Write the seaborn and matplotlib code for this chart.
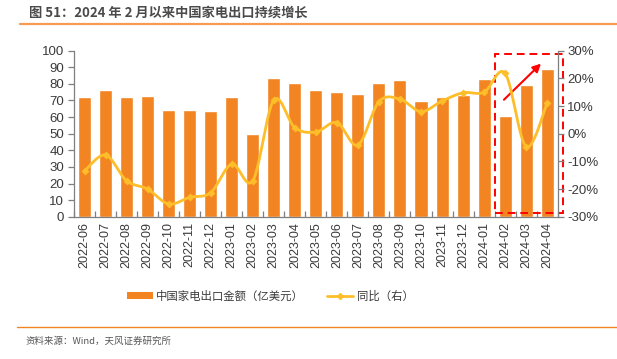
import numpy as np
import pandas as pd
import matplotlib
matplotlib.use("Agg")
import matplotlib.pyplot as plt
import seaborn as sns
from matplotlib.patches import Patch, Rectangle
from matplotlib.lines import Line2D
from matplotlib.ticker import FuncFormatter, FixedLocator

# ---- data ----
months = ["2022-06", "2022-07", "2022-08", "2022-09", "2022-10", "2022-11", "2022-12",
          "2023-01", "2023-02", "2023-03", "2023-04", "2023-05", "2023-06", "2023-07",
          "2023-08", "2023-09", "2023-10", "2023-11", "2023-12", "2024-01", "2024-02",
          "2024-03", "2024-04"]
export_value = [71.9, 76.6, 72.3, 72.9, 64.5, 64.5, 63.9, 72.0, 49.8, 83.6, 80.4, 76.1,
                74.9, 73.9, 80.7, 82.2, 69.5, 72.3, 73.6, 82.8, 60.7, 79.3, 89.2]
yoy = [-13.5, -7.7, -17.0, -20.0, -25.4, -23.0, -21.3, -11.0, -17.0, 12.2, 2.2, 0.6,
       4.0, -4.1, 11.6, 12.5, 8.0, 11.8, 14.8, 15.0, 21.8, -4.7, 11.0]
left_ticks = [0, 10, 20, 30, 40, 50, 60, 70, 80, 90, 100]
right_ticks = [-30, -20, -10, 0, 10, 20, 30]

title = "图 51：2024 年 2 月以来中国家电出口持续增长"
bar_label = "中国家电出口金额（亿美元）"
line_label = "同比（右）"
source = "资料来源：Wind，天风证券研究所"

BAR_C = "#F28522"
LINE_C = "#FDBE2A"
TXT_C = "#3A3A3A"

sns.set_style("white")
plt.rcParams["font.family"] = ["Liberation Sans", "Noto Sans CJK SC", "DejaVu Sans"]
CJK = ["Noto Sans CJK SC", "DejaVu Sans"]

fig = plt.figure(figsize=(6.17, 3.59), dpi=100)
ax = fig.add_axes([74 / 617, 1 - 216.7 / 359, (557.7 - 74) / 617, (216.7 - 50.7) / 359])

df = pd.DataFrame({"month": months, "value": export_value, "yoy": yoy})
sns.barplot(data=df, x="month", y="value", color=BAR_C, saturation=1, width=0.62, ax=ax)
ax.set_xlim(-0.5, len(months) - 0.5)
ax.set_ylim(0, 100)
ax.set_yticks(left_ticks)
ax.set_xlabel("")
ax.set_ylabel("")
for s in ["top", "right"]:
    ax.spines[s].set_visible(False)
for s in ["left", "bottom"]:
    ax.spines[s].set_color("#7f7f7f")
    ax.spines[s].set_linewidth(0.9)
ax.tick_params(axis="y", direction="out", length=4, width=0.9, color="#7f7f7f",
               labelsize=9.5, labelcolor=TXT_C, pad=3, left=True)
ax.tick_params(axis="x", which="major", length=0, labelsize=9, labelcolor=TXT_C,
               labelrotation=90, pad=4)
ax.xaxis.set_minor_locator(FixedLocator(np.arange(-0.5, len(months), 1.0)))
ax.tick_params(axis="x", which="minor", direction="in", length=4, width=0.9,
               color="#7f7f7f", bottom=True)

# ---- right axis: smoothed line ----
ax2 = ax.twinx()
x = np.arange(len(months), dtype=float)
y = np.array(yoy, dtype=float)
# Catmull-Rom smoothing through the data points (for rendering)
P = np.concatenate([[y[0]], y, [y[-1]]])
Xp = np.concatenate([[x[0]], x, [x[-1]]])
xs, ys = [], []
t = np.linspace(0, 1, 25)
for i in range(1, len(P) - 2):
    p0, p1, p2, p3 = P[i - 1], P[i], P[i + 1], P[i + 2]
    q0, q1, q2, q3 = Xp[i - 1], Xp[i], Xp[i + 1], Xp[i + 2]
    f = lambda a0, a1, a2, a3: 0.5 * ((2 * a1) + (-a0 + a2) * t +
                                      (2 * a0 - 5 * a1 + 4 * a2 - a3) * t ** 2 +
                                      (-a0 + 3 * a1 - 3 * a2 + a3) * t ** 3)
    xs.extend(f(q0, q1, q2, q3))
    ys.extend(f(p0, p1, p2, p3))
sns.lineplot(x=xs, y=ys, sort=False, color=LINE_C, linewidth=2.0, ax=ax2, estimator=None)
sns.scatterplot(x=x, y=y, color=LINE_C, s=14, marker="D", edgecolor=LINE_C, ax=ax2, zorder=4)
ax2.set_ylim(-30, 30)
ax2.set_yticks(right_ticks)
ax2.yaxis.set_major_formatter(FuncFormatter(lambda v, p: f"{int(v)}%"))
for s in ["top", "left", "bottom"]:
    ax2.spines[s].set_visible(False)
ax2.spines["right"].set_color("#7f7f7f")
ax2.spines["right"].set_linewidth(0.9)
ax2.tick_params(axis="y", direction="out", length=4, width=0.9, color="#7f7f7f",
                labelsize=9.5, labelcolor=TXT_C, pad=3, right=True)
ax2.set_xlim(-0.5, len(months) - 0.5)

# ---- annotation: red dashed box and arrow ----
rect = Rectangle((19.52, 2.2), 22.75 - 19.52, 97.8 - 2.2, fill=False, edgecolor="#FF0000",
                 linestyle=(0, (4, 2.5)), linewidth=1.4, clip_on=False, zorder=6)
ax.add_patch(rect)
ax.annotate("", xy=(21.8, 93.4), xytext=(19.85, 69.3),
            arrowprops=dict(arrowstyle="-|>", color="#FF0000", lw=1.5, mutation_scale=12),
            annotation_clip=False, zorder=7)

# ---- title, rules, legend, source ----
fig.text(29 / 617, 1 - 13 / 359, title, family=CJK, fontsize=9.5, fontweight="bold",
         color="#4a4a4a", va="center", ha="left")
fig.add_artist(Line2D([20 / 617, 1.0], [1 - 23.5 / 359] * 2, color="#F59A4E", lw=1.6))
fig.add_artist(Line2D([17 / 617, 1.0], [1 - 327 / 359] * 2, color="#F28522", lw=1.0))
fig.text(25 / 617, 1 - 341 / 359, source, family=CJK, fontsize=6.8, color="#555555",
         va="center", ha="left")

handles = [Patch(facecolor=BAR_C, edgecolor="none"),
           Line2D([0], [0], color=LINE_C, lw=2, marker="D", markersize=3)]
leg = fig.legend(handles, [bar_label, line_label], loc="center", ncol=2,
                 bbox_to_anchor=(270 / 617, 1 - 296 / 359), frameon=False,
                 prop={"family": CJK, "size": 8.2}, handlelength=2.3, handleheight=0.6,
                 columnspacing=2.0, handletextpad=0.3)
for tx in leg.get_texts():
    tx.set_color(TXT_C)

fig.savefig("out.png", dpi=100)
